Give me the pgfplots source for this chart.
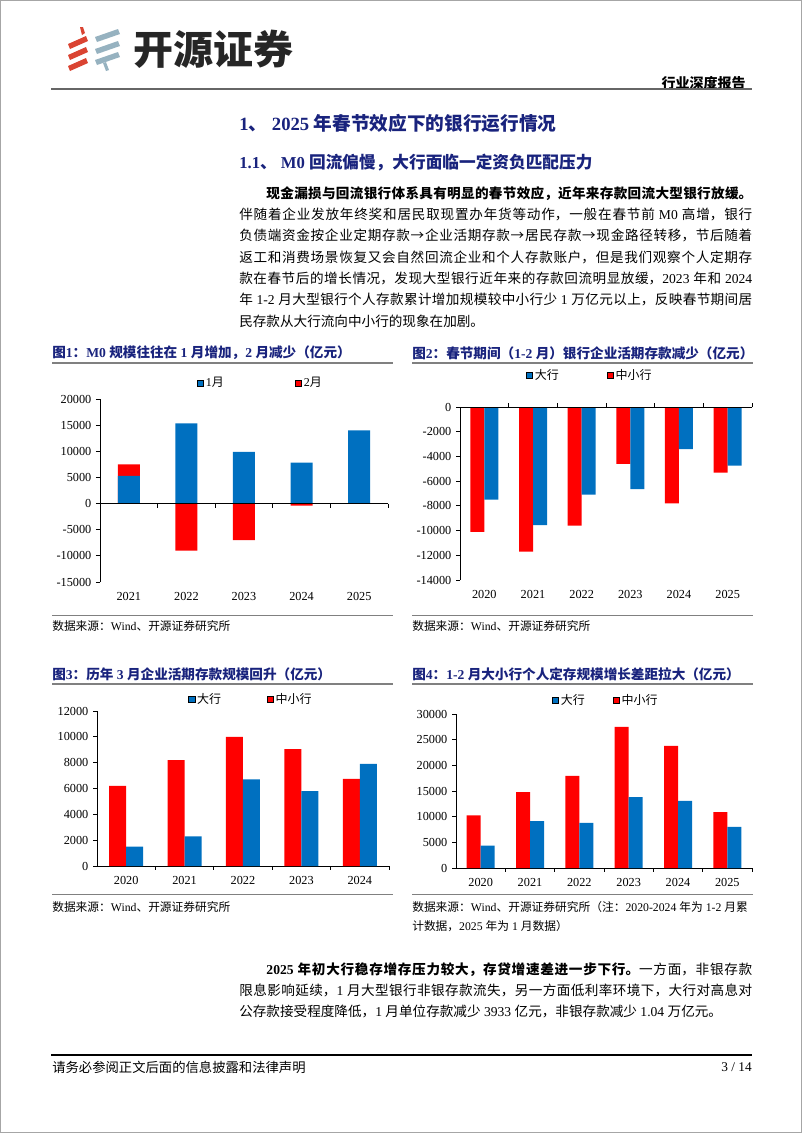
\documentclass[border=0pt]{standalone}
\usepackage{pgfplots}
\pgfplotsset{compat=1.18}
\usepackage{fontspec}
\setmainfont{Liberation Serif}
\newfontfamily\cjk{Noto Sans CJK SC}
\XeTeXlinebreaklocale "zh"
\XeTeXlinebreakskip=0pt plus 1.5pt
\XeTeXinterchartokenstate=1
\newXeTeXintercharclass\CJKclass
\newcount\cjkcnt
\def\cjkrange#1#2{\cjkcnt=#1\relax
  \loop
    \XeTeXcharclass\cjkcnt=\CJKclass\relax
  \ifnum\cjkcnt<#2\relax
    \advance\cjkcnt by 1\relax
  \repeat}
\cjkrange{"2E80}{"9FFF}
\cjkrange{"FF00}{"FFEF}
\XeTeXcharclass"2192=\CJKclass\relax
\XeTeXinterchartoks 0 \CJKclass={\begingroup\cjk}
\XeTeXinterchartoks 4095 \CJKclass={\begingroup\cjk}
\XeTeXinterchartoks \CJKclass 0={\endgroup}
\XeTeXinterchartoks \CJKclass 4095={\endgroup}

\definecolor{cblue}{RGB}{0,112,192}
\definecolor{cred}{RGB}{255,0,0}
\definecolor{navy}{RGB}{25,35,125}
\definecolor{lred}{RGB}{218,68,50}
\definecolor{lgray}{RGB}{150,178,192}

\pgfplotsset{
  chart/.style={
    scale only axis, anchor=south west, clip=false,
    axis lines*=left,
    axis line style={black, line width=0.6pt},
    tick align=outside, major tick length=3pt,
    xtick style={draw=none},
    ytick style={black, line width=0.6pt},
    scaled y ticks=false,
    tick label style={font=\fontsize{9.2}{10}\selectfont},
    xticklabel style={yshift=-1pt},
    legend columns=2,
    legend style={draw=none, fill=none, inner sep=0pt, anchor=west,
      font=\fontsize{9}{10}\selectfont, nodes={inner sep=1.5pt}},
    legend image code/.code={\fill[##1] (0pt,-2.3pt) rectangle (4.6pt,2.3pt);},
    /pgf/number format/assume math mode=true,
  },
}

\begin{document}
\begin{tikzpicture}
\begin{scope}[x=0.75pt, y=-0.75pt]
\path[use as bounding box] (0,0) rectangle (802,1133);
\draw[gray!70, line width=0.75pt] (0.5,0.5) rectangle (801.5,1132.5);
% logo stripes
\foreach \y in {36,47,58}{\fill[lred] (68,\y+8) -- (86,\y) -- (88,\y+5) -- (70,\y+13) -- cycle;}
\fill[lred] (80,27) -- (83,27) -- (85,33) -- (82,35) -- cycle;
\foreach \y in {29,41,52}{\fill[lgray] (95,\y+8) -- (118,\y) -- (120,\y+5) -- (97,\y+13) -- cycle;}
\fill[lgray] (103,63) -- (106,62) -- (109,70) -- (106,71) -- cycle;
\node[anchor=west, inner sep=0, font=\fontsize{30}{30}\selectfont\bfseries, text=black!85] at (133,49) {开源证券};
\node[anchor=east, inner sep=0, font=\fontsize{10.5}{12}\selectfont\bfseries] at (746,83) {行业深度报告};
\draw[black!60, line width=1.1pt] (51,89) -- (752,89);
% headings
\node[anchor=west, inner sep=0, font=\fontsize{14}{16}\selectfont\bfseries, text=navy] at (239,123) {1、 2025 年春节效应下的银行运行情况};
\node[anchor=west, inner sep=0, font=\fontsize{12.5}{14}\selectfont\bfseries, text=navy] at (239,163) {1.1、 M0 回流偏慢，大行面临一定资负匹配压力};
% paragraph 1
\node[anchor=north west, inner sep=0, text width=384.75pt, align=justify, font=\fontsize{10.2}{16}\selectfont] at (239,186) {\hspace*{2em}{\bfseries 现金漏损与回流银行体系具有明显的春节效应，近年来存款回流大型银行放缓。}\linebreak
伴随着企业发放年终奖和居民取现置办年货等动作，一般在春节前 M0 高增，银行\linebreak
负债端资金按企业定期存款→企业活期存款→居民存款→现金路径转移，节后随着\linebreak
返工和消费场景恢复又会自然回流企业和个人存款账户，但是我们观察个人定期存\linebreak
款在春节后的增长情况，发现大型银行近年来的存款回流明显放缓，2023 年和 2024\linebreak
年 1-2 月大型银行个人存款累计增加规模较中小行少 1 万亿元以上，反映春节期间居\linebreak
民存款从大行流向中小行的现象在加剧。};
% chart titles and rules
\node[anchor=west, inner sep=0, font=\fontsize{10.2}{12}\selectfont\bfseries, text=navy] at (52,353) {图1：M0 规模往往在 1 月增加，2 月减少（亿元）};
\node[anchor=west, inner sep=0, font=\fontsize{10.2}{12}\selectfont\bfseries, text=navy] at (412,353) {图2：春节期间（1-2 月）银行企业活期存款减少（亿元）};
\node[anchor=west, inner sep=0, font=\fontsize{10.2}{12}\selectfont\bfseries, text=navy] at (52,674) {图3：历年 3 月企业活期存款规模回升（亿元）};
\node[anchor=west, inner sep=0, font=\fontsize{10.2}{12}\selectfont\bfseries, text=navy] at (412,674) {图4：1-2 月大小行个人定存规模增长差距拉大（亿元）};
\draw[black!50, line width=1.1pt] (52,363) -- (393,363);
\draw[black!50, line width=1.1pt] (412,363) -- (753,363);
\draw[black!50, line width=1.1pt] (52,684) -- (393,684);
\draw[black!50, line width=1.1pt] (412,684) -- (753,684);
\draw[black!50, line width=0.75pt] (52,615) -- (393,615);
\draw[black!50, line width=0.75pt] (412,615) -- (753,615);
\draw[black!50, line width=0.75pt] (52,894) -- (393,894);
\draw[black!50, line width=0.75pt] (412,894) -- (753,894);
\node[anchor=west, inner sep=0, font=\fontsize{8.8}{10}\selectfont] at (52,626) {数据来源：Wind、开源证券研究所};
\node[anchor=west, inner sep=0, font=\fontsize{8.8}{10}\selectfont] at (412,626) {数据来源：Wind、开源证券研究所};
\node[anchor=west, inner sep=0, font=\fontsize{8.8}{10}\selectfont] at (52,907) {数据来源：Wind、开源证券研究所};
\node[anchor=west, inner sep=0, font=\fontsize{8.8}{10}\selectfont] at (412,907) {数据来源：Wind、开源证券研究所（注：2020-2024 年为 1-2 月累};
\node[anchor=west, inner sep=0, font=\fontsize{8.8}{10}\selectfont] at (412,926) {计数据，2025 年为 1 月数据）};
% paragraph 2
\node[anchor=north west, inner sep=0, text width=384.75pt, align=justify, font=\fontsize{10.2}{16}\selectfont] at (239,962) {\hspace*{2em}{\bfseries 2025 年初大行稳存增存压力较大，存贷增速差进一步下行。}一方面，非银存款\linebreak
限息影响延续，1 月大型银行非银存款流失，另一方面低利率环境下，大行对高息对\linebreak
公存款接受程度降低，1 月单位存款减少 3933 亿元，非银存款减少 1.04 万亿元。};
% footer
\draw[black, line width=1.1pt] (51,1055) -- (752,1055);
\node[anchor=west, inner sep=0, font=\fontsize{10}{12}\selectfont] at (52,1067) {请务必参阅正文后面的信息披露和法律声明};
\node[anchor=east, inner sep=0, font=\fontsize{10}{12}\selectfont] at (752,1067) {3 / 14};
% axis anchors
\coordinate (A1) at (100,582);
\coordinate (A2) at (460,580);
\coordinate (A3) at (97,866);
\coordinate (A4) at (456,868);
\end{scope}

% chart 1
\begin{axis}[chart, at={(A1)}, width=216pt, height=137.25pt,
  xmin=-0.5, xmax=4.5, ymin=-15000, ymax=20000,
  x axis line style={draw=none},
  xtick={0,1,2,3,4}, xticklabels={2021,2022,2023,2024,2025},
  ytick={-15000,-10000,-5000,0,5000,10000,15000,20000},
  yticklabels={-15000,-10000,-5000,0,5000,10000,15000,20000},
  legend style={at={(0.337,1.087)}, /tikz/every even column/.append style={column sep=52pt}}]
\addlegendimage{fill=cblue}\addlegendentry{1月}
\addlegendimage{fill=cred}\addlegendentry{2月}
\addplot[ybar, bar width=16.5pt, bar shift=0pt, fill=cred, draw=none, forget plot] coordinates {(0,7500) (1,-9000) (2,-7000) (3,-400)};
\addplot[ybar, bar width=16.5pt, bar shift=0pt, fill=cblue, draw=none, forget plot] coordinates {(0,5300) (1,15350) (2,9900) (3,7850) (4,14000)};
\draw[black, line width=0.6pt] (axis cs:-0.5,0) -- (axis cs:4.5,0);
\pgfplotsinvokeforeach{0.5,1.5,2.5,3.5,4.5}{\draw[black,line width=0.6pt] (axis cs:#1,0) -- ++(0pt,-3pt);}
\end{axis}

% chart 2
\begin{axis}[chart, at={(A2)}, width=219pt, height=129.75pt,
  xmin=-0.5, xmax=5.5, ymin=-14000, ymax=0,
  x axis line style={draw=none},
  xtick={0,1,2,3,4,5}, xticklabels={2020,2021,2022,2023,2024,2025},
  ytick={-14000,-12000,-10000,-8000,-6000,-4000,-2000,0},
  yticklabels={-14000,-12000,-10000,-8000,-6000,-4000,-2000,0},
  legend style={at={(0.226,1.185)}, /tikz/every even column/.append style={column sep=34.5pt}}]
\addlegendimage{fill=cblue}\addlegendentry{大行}
\addlegendimage{fill=cred}\addlegendentry{中小行}
\addplot[ybar, bar width=10.5pt, bar shift=-5.25pt, fill=cred, draw=none, forget plot] coordinates {(0,-10100) (1,-11700) (2,-9600) (3,-4600) (4,-7800) (5,-5300)};
\addplot[ybar, bar width=10.5pt, bar shift=5.25pt, fill=cblue, draw=none, forget plot] coordinates {(0,-7500) (1,-9550) (2,-7100) (3,-6650) (4,-3400) (5,-4750)};
\draw[black, line width=0.6pt] (axis cs:-0.5,0) -- (axis cs:5.5,0);
\pgfplotsinvokeforeach{0.5,1.5,2.5,3.5,4.5,5.5}{\draw[black,line width=0.6pt] (axis cs:#1,0) -- ++(0pt,3pt);}
\end{axis}

% chart 3
\begin{axis}[chart, at={(A3)}, width=219pt, height=116.25pt,
  xmin=-0.5, xmax=4.5, ymin=0, ymax=12000,
  xtick={0,1,2,3,4}, xticklabels={2020,2021,2022,2023,2024},
  ytick={0,2000,4000,6000,8000,10000,12000},
  yticklabels={0,2000,4000,6000,8000,10000,12000},
  legend style={at={(0.312,1.077)}, /tikz/every even column/.append style={column sep=33pt}}]
\addlegendimage{fill=cblue}\addlegendentry{大行}
\addlegendimage{fill=cred}\addlegendentry{中小行}
\addplot[ybar, bar width=12.75pt, bar shift=-6.375pt, fill=cred, draw=none, forget plot] coordinates {(0,6200) (1,8200) (2,10000) (3,9050) (4,6750)};
\addplot[ybar, bar width=12.75pt, bar shift=6.375pt, fill=cblue, draw=none, forget plot] coordinates {(0,1500) (1,2300) (2,6700) (3,5800) (4,7900)};
\pgfplotsinvokeforeach{0.5,1.5,2.5,3.5,4.5}{\draw[black,line width=0.6pt] (axis cs:#1,0) -- ++(0pt,-3pt);}
\end{axis}

% chart 4
\begin{axis}[chart, at={(A4)}, width=222pt, height=115.5pt,
  xmin=-0.5, xmax=5.5, ymin=0, ymax=30000,
  xtick={0,1,2,3,4,5}, xticklabels={2020,2021,2022,2023,2024,2025},
  ytick={0,5000,10000,15000,20000,25000,30000},
  yticklabels={0,5000,10000,15000,20000,25000,30000},
  legend style={at={(0.324,1.091)}, /tikz/every even column/.append style={column sep=19.5pt}}]
\addlegendimage{fill=cblue}\addlegendentry{大行}
\addlegendimage{fill=cred}\addlegendentry{中小行}
\addplot[ybar, bar width=10.5pt, bar shift=-5.25pt, fill=cred, draw=none, forget plot] coordinates {(0,10250) (1,14800) (2,17950) (3,27500) (4,23800) (5,10900)};
\addplot[ybar, bar width=10.5pt, bar shift=5.25pt, fill=cblue, draw=none, forget plot] coordinates {(0,4350) (1,9150) (2,8800) (3,13800) (4,13100) (5,8000)};
\pgfplotsinvokeforeach{0.5,1.5,2.5,3.5,4.5,5.5}{\draw[black,line width=0.6pt] (axis cs:#1,0) -- ++(0pt,-3pt);}
\end{axis}
\end{tikzpicture}
\end{document}
